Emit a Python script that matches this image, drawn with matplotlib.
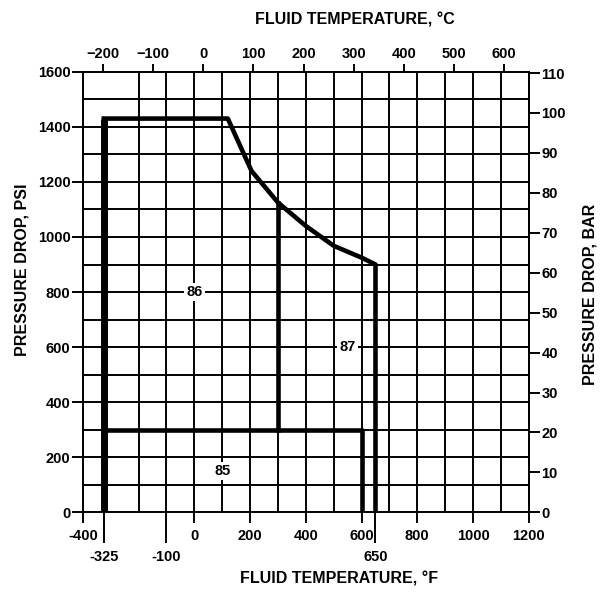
import numpy as np
import matplotlib
matplotlib.use("Agg")
import matplotlib.pyplot as plt

plt.rcParams['font.family'] = ['Liberation Sans', 'DejaVu Sans']
plt.rcParams['font.weight'] = 'bold'

# boundary curve of the operating envelope (deg F, psi)
curve_f = [-325, -325, 120, 205, 300, 400, 500, 600, 650, 650]
curve_psi = [0, 1430, 1430, 1240, 1125, 1040, 968, 925, 900, 0]

# inner region dividers
low_f = [-325, 600, 600]
low_psi = [300, 300, 0]
mid_f = [300, 300]
mid_psi = [300, 1125]

# region labels
region_names = ["86", "87", "85"]
region_f = [0, 550, 100]
region_psi = [800, 600, 150]

f_major = [-400, 0, 200, 400, 600, 800, 1000, 1200]
f_minor = [-325, -100, 650]
psi_ticks = list(range(0, 1601, 200))
bar_ticks = list(range(0, 111, 10))
c_ticks = list(range(-200, 601, 100))

PSI_PER_BAR = 14.5038


def f2c(f):
    return (np.asarray(f) - 32) * 5 / 9


def c2f(c):
    return np.asarray(c) * 9 / 5 + 32


def psi2bar(p):
    return np.asarray(p) / PSI_PER_BAR


def bar2psi(b):
    return np.asarray(b) * PSI_PER_BAR


fig = plt.figure(figsize=(6.05, 5.93), dpi=100)
ax = fig.add_axes([0.137, 0.136, 0.737, 0.743])
ax.set_xlim(-400, 1200)
ax.set_ylim(0, 1600)

# grid, every 100 F and 100 psi (the -300 line is covered by the -325 line)
for gx in range(-400, 1201, 100):
    if gx == -300:
        continue
    ax.axvline(gx, color="black", lw=1.4, zorder=1)
for gy in range(0, 1601, 100):
    ax.axhline(gy, color="black", lw=1.4, zorder=1)

ax.plot(curve_f[:2], curve_psi[:2], color="black", lw=5, zorder=3,
        solid_capstyle="butt")
ax.plot(curve_f[1:], curve_psi[1:], color="black", lw=3.3, zorder=3,
        solid_joinstyle="round")
ax.plot(low_f, low_psi, color="black", lw=3.3, zorder=3)
ax.plot(mid_f, mid_psi, color="black", lw=3.3, zorder=3)

for name, fx, py in zip(region_names, region_f, region_psi):
    ax.text(fx, py, name, ha="center", va="center", fontsize=10.5,
            fontweight="bold", zorder=4,
            bbox=dict(facecolor="white", edgecolor="none", pad=1.5))

for s in ax.spines.values():
    s.set_linewidth(1.4)

ax.set_xticks(f_major)
ax.set_xticks(f_minor, minor=True)
ax.set_xticklabels([str(v) for v in f_major])
ax.set_xticklabels([str(v) for v in f_minor], minor=True)
ax.tick_params(axis="x", which="major", length=8, width=1.4, pad=4,
               labelsize=10.5)
ax.tick_params(axis="x", which="minor", length=22, width=1.4, pad=5,
               labelsize=10.5)
ax.set_yticks(psi_ticks)
ax.tick_params(axis="y", length=8, width=1.4, pad=1, labelsize=10.5)
for lab in ax.get_xticklabels(minor=True) + ax.get_xticklabels() + ax.get_yticklabels():
    lab.set_fontweight("bold")

ax.set_xlabel("FLUID TEMPERATURE, °F", fontsize=11.5, fontweight="bold")
ax.xaxis.set_label_coords(0.575, -0.135)
ax.set_ylabel("PRESSURE DROP, PSI", fontsize=11.5, fontweight="bold")
ax.yaxis.set_label_coords(-0.12, 0.55)

top = ax.secondary_xaxis("top", functions=(f2c, c2f))
top.set_xticks(c_ticks)
top.tick_params(length=6, width=1.4, pad=2, labelsize=10.5)
for lab in top.get_xticklabels():
    lab.set_fontweight("bold")
top.spines["top"].set_linewidth(1.4)
fig.text(83 / 605 + 0.61 * 446 / 605, 1 - 20 / 593, "FLUID TEMPERATURE, °C",
         fontsize=11.5, fontweight="bold", ha="center", va="center")

right = ax.secondary_yaxis("right", functions=(psi2bar, bar2psi))
right.set_yticks(bar_ticks)
right.tick_params(length=8, width=1.4, pad=1, labelsize=10.5)
for lab in right.get_yticklabels():
    lab.set_fontweight("bold")
right.spines["right"].set_linewidth(1.4)
fig.text(1 - 15 / 605, 1 - 294 / 593, "PRESSURE DROP, BAR", fontsize=11.5,
         fontweight="bold", rotation=90, ha="center", va="center")

fig.savefig("out.png", dpi=100)
